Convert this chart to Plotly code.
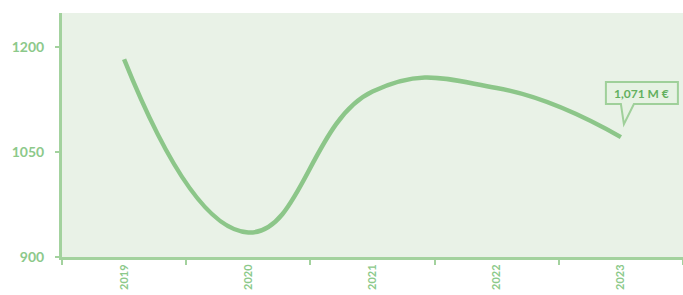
import plotly.graph_objects as go

years = ["2019", "2020", "2021", "2022", "2023"]
revenue = [1182, 935, 1136, 1141, 1071]
y_ticks = [900, 1050, 1200]
last_label = "1,071 M €"

GREEN_LINE = "#8cc689"
GREEN_AXIS = "#a3d29e"
GREEN_TEXT = "#8cc98a"
GREEN_DARK = "#62b05e"
PLOT_BG = "#e9f2e7"
FONT = "Lato, DejaVu Sans, sans-serif"

last_idx = len(years) - 1

fig = go.Figure()
fig.add_trace(go.Scatter(
    x=years, y=revenue, mode="lines",
    line=dict(color=GREEN_LINE, width=4.5, shape="spline", smoothing=1.3),
    hoverinfo="skip", showlegend=False,
))

# callout bubble anchored on the last data point (pixel offsets)
fig.add_shape(
    type="path", xref="x", yref="y",
    xsizemode="pixel", ysizemode="pixel",
    xanchor=last_idx, yanchor=revenue[-1],
    path="M -15,33 L 0,33 L 3,13 L 13,33 L 57,33 L 57,55 L -15,55 Z",
    line=dict(color="#9fd09a", width=2),
    fillcolor="#e6f2e3", layer="above",
)
fig.add_annotation(
    x=last_idx, y=revenue[-1], xref="x", yref="y",
    text="<b>" + last_label + "</b>", showarrow=False,
    xshift=21, yshift=44,
    font=dict(family=FONT, size=12, color=GREEN_DARK),
)

fig.update_layout(
    width=683, height=295,
    margin=dict(l=62, r=0, t=13, b=38),
    paper_bgcolor="white", plot_bgcolor=PLOT_BG,
    font=dict(family=FONT, color=GREEN_TEXT),
)
fig.update_xaxes(
    type="category", range=[-0.5, 4.5],
    showgrid=False, showline=True, linecolor=GREEN_AXIS, linewidth=3,
    ticks="outside", tickson="boundaries", ticklen=5, tickcolor=GREEN_AXIS, tickwidth=2,
    tickangle=-90, tickfont=dict(family=FONT, size=11, color=GREEN_TEXT, weight="bold"),
)
fig.update_yaxes(
    range=[900, 1248], tickvals=y_ticks,
    showgrid=False, zeroline=False, showline=True, linecolor=GREEN_AXIS, linewidth=3,
    ticks="outside", ticklen=4, tickcolor=GREEN_AXIS, tickwidth=2,
    ticklabelstandoff=8,
    tickfont=dict(family=FONT, size=14, color=GREEN_TEXT, weight="bold"),
)

fig.write_html("out.html", config={"displayModeBar": False},
               post_script="document.body.style.margin='0';")
